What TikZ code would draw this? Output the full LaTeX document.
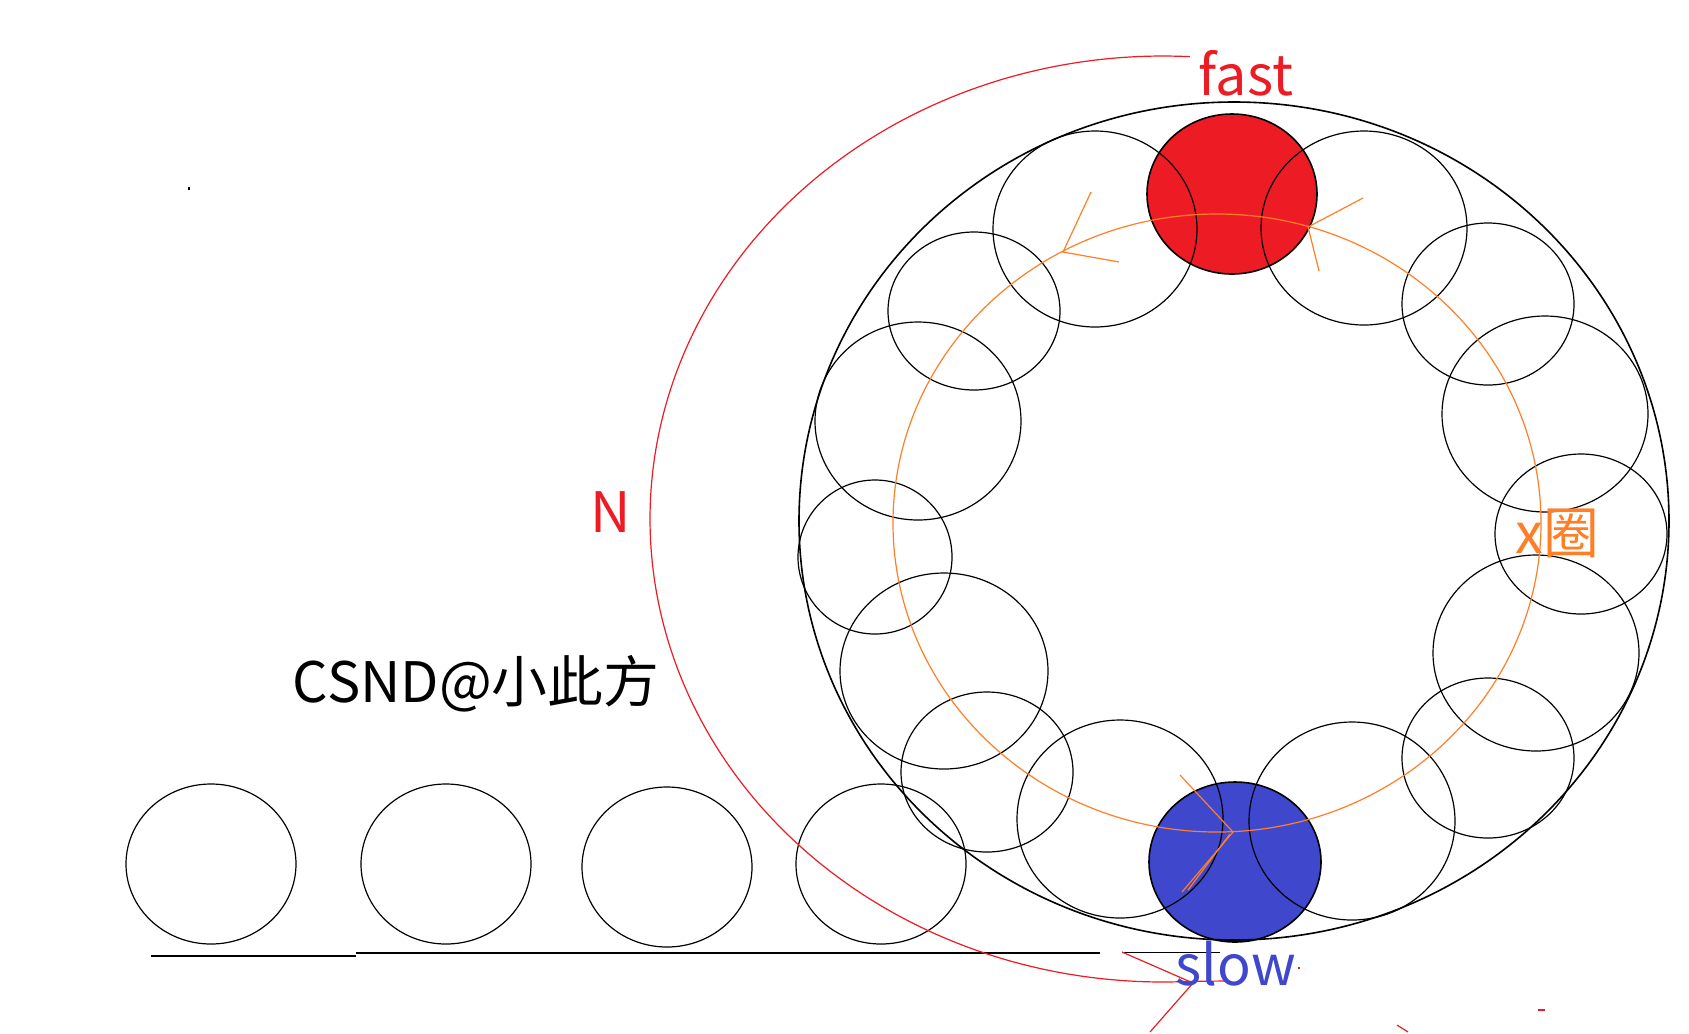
\documentclass[tikz,border=0pt]{standalone}
\usepackage{fontspec}
\setmainfont{Noto Sans CJK SC}
\definecolor{pred}{HTML}{ED1C24}
\definecolor{pblue}{HTML}{3F48CC}
\definecolor{porange}{HTML}{FF7F27}
\begin{document}
\begin{tikzpicture}[x=0.5bp,y=-0.5bp,
  ring/.style={draw=black,line width=0.6bp},
  outer/.style={draw=black,line width=0.8bp},
  orangeline/.style={draw=porange,line width=0.6bp},
  redline/.style={draw=pred,line width=0.6bp},
  lbl/.style={font=\fontsize{28}{30}\selectfont,inner sep=0pt,anchor=base}]
\fill[white] (0,0) rectangle (1689,1033);
\useasboundingbox (0,0) rectangle (1689,1033);
% filled pointers
\filldraw[fill=pred,draw=black,line width=0.8bp] (1232,194) ellipse [x radius=85,y radius=80];
\filldraw[fill=pblue,draw=black,line width=0.8bp] (1235,862) ellipse [x radius=86,y radius=80];
% outer ring
\draw[outer] (1234,521) ellipse [x radius=435,y radius=419];
% ring circles
\draw[ring] (1095,229) ellipse [x radius=102,y radius=98];
\draw[ring] (1364,228) ellipse [x radius=103,y radius=97];
\draw[ring] (974,311) ellipse [x radius=86,y radius=79];
\draw[ring] (1488,304) ellipse [x radius=86,y radius=81];
\draw[ring] (918,421) ellipse [x radius=103,y radius=99];
\draw[ring] (1545,414) ellipse [x radius=103,y radius=98];
\draw[ring] (875,557) ellipse [x radius=77,y radius=77];
\draw[ring] (1581,534) ellipse [x radius=86,y radius=80];
\draw[ring] (944,671) ellipse [x radius=104,y radius=98];
\draw[ring] (1536,653) ellipse [x radius=103,y radius=98];
\draw[ring] (987,772) ellipse [x radius=86,y radius=80];
\draw[ring] (1488,758) ellipse [x radius=86,y radius=80];
\draw[ring] (1120,819) ellipse [x radius=103,y radius=99];
\draw[ring] (1352,821) ellipse [x radius=103,y radius=99];
% bottom row
\draw[ring] (211,864) ellipse [x radius=85,y radius=80];
\draw[ring] (446,864) ellipse [x radius=85,y radius=80];
\draw[ring] (667,867) ellipse [x radius=85,y radius=80];
\draw[ring] (881,864) ellipse [x radius=85,y radius=80];
% ground line
\draw[line width=0.8bp] (151,956) -- (356,956);
\draw[line width=0.6bp] (356,953) -- (1100,953);
\draw[line width=0.5bp] (1122,952) -- (1220,952);
% orange loop
\draw[orangeline] (1217,523) ellipse [x radius=324,y radius=309];
\draw[orangeline] (1091,192) -- (1063,252) -- (1119,262);
\draw[orangeline] (1363,198) -- (1308,227) -- (1319,271);
\draw[orangeline] (1180,775) -- (1233,832) -- (1182,892);
\draw[orangeline] (1188,890) -- (1230,834);
% red N arc with arrow
\coordinate (tip) at (1193,983);
\draw[redline] plot[domain=273:87,samples=150,smooth] ({1163+513*cos(\x)},{519+463*sin(\x)}) -- (1227,981);
\draw[redline] (1122,952) -- (tip) -- (1150,1032);
% stray specks
\fill[black] (188,187) rectangle (190,190);
\draw[redline] (1397,1025) -- (1408,1032);
\draw[redline] (1538,1010) -- (1545,1010);
\fill[pred] (1298,967) rectangle (1300,969);
% labels
\node[lbl,text=pred] (fast) at (1246,95) {fast};
\node[lbl,text=pblue] (slow) at (1236,985) {slow};
\node[lbl,text=pred] (N) at (611,532) {N};
\node[lbl,text=black] (wm) at (476,702) {CSND@小此方};
\node[lbl,text=porange] (xq) at (1557,553) {x圈};
\end{tikzpicture}
\end{document}
